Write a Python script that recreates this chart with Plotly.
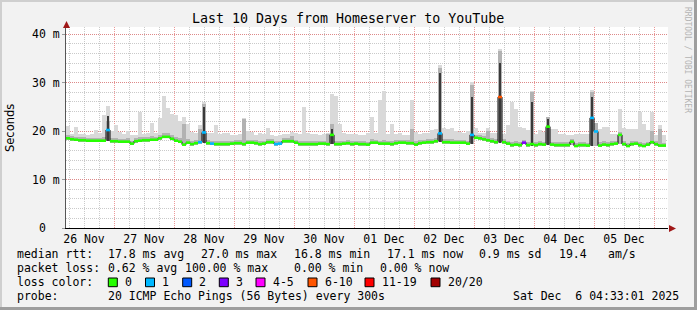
import plotly.graph_objects as go
import pandas as pd

W, H = 697, 310
MONO = "DejaVu Sans Mono"
SANS = "DejaVu Sans"

# ---------------- data ----------------
start = pd.Timestamp("2025-11-26 04:48")
step_min = 96          # one sample column every 96 minutes

median_ms = [
    18.5, 18.3, 18.2, 18.1, 18.1, 18.0, 18.0, 18.0, 18.0, 18.0,
    20.2, 17.9, 17.9, 17.8, 17.8, 17.8, 17.4, 17.9, 18.0, 18.1,
    18.1, 18.2, 18.2, 18.5, 18.8, 18.8, 18.4, 18.0, 17.8, 17.2,
    17.6, 17.3, 17.5, 17.7, 19.7, 17.5, 17.4, 17.3, 17.3, 17.3,
    17.3, 17.4, 17.5, 17.5, 17.3, 17.6, 17.6, 17.5, 17.3, 17.4,
    17.7, 17.7, 17.3, 17.4, 17.9, 17.9, 17.9, 17.6, 17.3, 17.3,
    17.3, 17.3, 17.3, 17.4, 17.4, 17.3, 19.2, 17.3, 17.3, 17.4,
    17.5, 17.3, 17.4, 17.3, 17.3, 17.2, 17.6, 17.6, 17.4, 17.4,
    17.4, 17.3, 17.5, 17.6, 17.6, 17.5, 17.5, 17.2, 17.5, 17.6,
    17.7, 17.7, 17.9, 19.5, 17.7, 17.7, 17.6, 17.6, 17.6, 17.6,
    17.4, 19.2, 18.6, 18.5, 18.3, 18.1, 17.9, 17.7, 27.0, 17.7,
    17.4, 17.1, 17.2, 17.1, 17.6, 17.1, 17.3, 17.1, 17.3, 17.2,
    20.9, 17.2, 17.1, 17.1, 17.1, 17.1, 17.8, 16.9, 17.1, 17.1,
    17.0, 22.7, 19.9, 17.0, 17.2, 17.1, 17.3, 17.4, 19.2, 17.3,
    16.9, 17.3, 17.4, 17.1, 16.9, 17.2, 17.7, 17.3, 17.0, 17.0,
]

smoke_min_ms = [
    18.2, 18.0, 17.9, 17.8, 17.8, 17.7, 17.7, 17.7, 17.7, 17.7,
    17.9, 17.6, 17.6, 17.5, 17.5, 17.5, 17.1, 17.6, 17.7, 17.8,
    17.8, 17.9, 17.9, 18.2, 18.5, 18.5, 18.1, 17.7, 17.5, 16.9,
    17.3, 17.0, 17.2, 17.4, 17.5, 17.2, 17.1, 17.0, 17.0, 17.0,
    17.0, 17.1, 17.2, 17.2, 17.0, 17.3, 17.3, 17.2, 17.0, 17.1,
    17.4, 17.4, 17.0, 17.1, 17.6, 17.6, 17.6, 17.3, 17.0, 17.0,
    17.0, 17.0, 17.0, 17.1, 17.1, 17.0, 17.3, 17.0, 17.0, 17.1,
    17.2, 17.0, 17.1, 17.0, 17.0, 16.9, 17.3, 17.3, 17.1, 17.1,
    17.1, 17.0, 17.2, 17.3, 17.3, 17.2, 17.2, 16.9, 17.2, 17.3,
    17.4, 17.4, 17.6, 17.7, 17.4, 17.4, 17.3, 17.3, 17.3, 17.3,
    17.1, 17.4, 18.3, 18.2, 18.0, 17.8, 17.6, 17.4, 17.5, 17.4,
    17.1, 16.8, 16.9, 16.8, 17.3, 16.8, 17.0, 16.8, 17.0, 16.9,
    17.2, 16.9, 16.8, 16.8, 16.8, 16.8, 17.2, 16.6, 16.8, 16.8,
    16.7, 17.0, 17.0, 16.7, 16.9, 16.8, 17.0, 17.1, 17.3, 17.0,
    16.6, 17.0, 17.1, 16.8, 16.6, 16.9, 17.3, 17.0, 16.7, 16.7,
]

smoke_max_ms = [
    21.0, 19.3, 20.8, 19.3, 19.3, 19.2, 19.4, 20.2, 19.6, 23.3,
    25.2, 20.0, 21.3, 19.8, 19.4, 20.0, 19.2, 19.2, 24.0, 19.4,
    19.6, 21.6, 19.6, 22.7, 27.2, 24.7, 23.6, 23.3, 22.0, 22.8,
    21.5, 19.8, 19.6, 21.2, 26.0, 19.6, 19.6, 21.2, 19.4, 19.6,
    19.6, 19.2, 19.2, 19.4, 22.7, 20.0, 19.8, 19.2, 19.6, 19.4,
    20.6, 19.2, 19.0, 19.2, 19.4, 19.4, 19.8, 19.6, 19.4, 25.0,
    19.6, 19.4, 19.4, 19.2, 19.4, 19.6, 27.6, 27.2, 21.4, 19.6,
    19.4, 19.4, 19.4, 19.2, 19.2, 19.6, 22.9, 19.6, 26.4, 28.3,
    19.4, 21.4, 19.4, 19.6, 19.2, 19.2, 26.4, 19.8, 19.4, 19.6,
    19.6, 20.2, 20.4, 33.6, 20.6, 20.4, 20.6, 20.0, 19.8, 19.6,
    20.0, 30.1, 20.6, 19.6, 19.6, 20.6, 19.6, 19.6, 37.0, 19.4,
    21.2, 26.0, 24.6, 20.8, 20.6, 20.2, 28.3, 19.4, 20.2, 19.8,
    22.9, 20.4, 20.4, 19.4, 19.4, 19.2, 19.2, 19.4, 19.4, 19.4,
    19.4, 28.5, 21.6, 20.4, 20.8, 20.8, 19.4, 19.4, 24.5, 20.6,
    20.4, 20.4, 20.4, 23.9, 21.4, 20.2, 23.9, 19.2, 21.2, 19.2,
]

smoke_p75_ms = [
    19.1, 18.9, 18.8, 18.7, 18.7, 18.6, 18.6, 18.6, 18.6, 18.7,
    22.0, 18.5, 18.6, 18.4, 18.4, 18.5, 18.0, 18.5, 18.7, 18.7,
    18.7, 18.9, 18.8, 19.1, 19.5, 19.5, 19.1, 18.7, 18.5, 21.5,
    18.3, 17.9, 18.1, 20.5, 25.5, 18.1, 18.0, 17.9, 17.9, 17.9,
    17.9, 18.0, 18.1, 18.1, 22.5, 18.2, 18.2, 18.1, 17.9, 18.0,
    18.3, 18.3, 17.9, 18.0, 18.5, 18.5, 19.0, 18.2, 17.9, 18.0,
    17.9, 17.9, 17.9, 18.0, 18.0, 19.4, 21.5, 17.9, 17.9, 18.0,
    18.1, 17.9, 18.0, 17.9, 17.9, 17.8, 18.3, 18.2, 18.0, 18.1,
    18.0, 17.9, 18.1, 18.2, 18.2, 18.1, 20.5, 18.0, 18.1, 18.2,
    18.3, 18.4, 18.6, 33.0, 18.4, 18.4, 18.3, 18.2, 18.2, 18.2,
    18.0, 29.5, 19.2, 19.1, 18.9, 20.0, 18.5, 18.3, 36.5, 18.3,
    18.0, 17.8, 17.9, 17.7, 18.2, 17.7, 28.0, 17.7, 17.9, 17.8,
    22.9, 17.8, 17.7, 17.7, 17.7, 17.7, 18.4, 17.5, 17.7, 17.7,
    17.6, 28.0, 21.6, 17.7, 17.9, 17.8, 17.9, 18.0, 19.8, 17.9,
    17.5, 17.9, 18.0, 17.8, 17.5, 17.8, 20.0, 17.9, 20.5, 17.6,
]

dark_idx = [10, 34, 66, 93, 101, 108, 116, 120, 131]
dark_top_ms = [23.0, 25.0, 20.5, 32.0, 27.0, 34.0, 26.0, 22.5, 27.0]

loss_idx = [10, 33, 34, 36, 52, 53, 93, 101, 108, 114, 131, 132]
loss_cnt = [1, 1, 1, 1, 1, 1, 1, 1, 7, 3, 1, 1]

loss_labels = ["0", "1", "2", "3", "4-5", "6-10", "11-19", "20/20"]
loss_colors = ["#26ff00", "#00b8ff", "#0059ff", "#7e00ff", "#ff00ff",
               "#ff5500", "#ff0000", "#a10000"]
loss_upper = [0, 1, 2, 3, 5, 10, 19, 20]

title = "Last 10 Days from Homeserver to YouTube"
rtt_chunks = ["median rtt:", "17.8 ms avg", "27.0 ms max", "16.8 ms min",
              "17.1 ms now", "0.9 ms sd", "19.4", "am/s"]
loss_chunks = ["packet loss:", "0.62 % avg", "100.00 % max", "0.00 % min",
               "0.00 % now"]
probe_text = "20 ICMP Echo Pings (56 Bytes) every 300s"
stamp_text = "Sat Dec  6 04:33:01 2025"
y_tickvals = [0, 10, 20, 30, 40]
y_ticktext = ["0  ", "10 m", "20 m", "30 m", "40 m"]

# ---------------- derived ----------------
n = len(median_ms)
step = pd.Timedelta(minutes=step_min)
starts = [start + step * i for i in range(n)]
centers = [s + step / 2 for s in starts]
width_ms = step_min * 60 * 1000

loss = [0] * n
for i, c in zip(loss_idx, loss_cnt):
    loss[i] = c


def loss_color(c):
    for up, col in zip(loss_upper, loss_colors):
        if c <= up:
            return col
    return loss_colors[-1]


fig = go.Figure()

fig.add_trace(go.Bar(x=centers, y=[hi - lo for lo, hi in zip(smoke_min_ms, smoke_max_ms)],
                     base=smoke_min_ms, width=width_ms,
                     marker=dict(color="#d9d9d9", line=dict(width=0)), hoverinfo="skip"))
fig.add_trace(go.Bar(x=centers, y=[p - lo for lo, p in zip(smoke_min_ms, smoke_p75_ms)],
                     base=smoke_min_ms, width=width_ms,
                     marker=dict(color="#b2b2b2", line=dict(width=0)), hoverinfo="skip"))
fig.add_trace(go.Bar(x=[centers[i] for i in dark_idx],
                     y=[t - smoke_min_ms[i] for i, t in zip(dark_idx, dark_top_ms)],
                     base=[smoke_min_ms[i] for i in dark_idx], width=width_ms * 0.55,
                     marker=dict(color="#3a3a3a", line=dict(width=0)), hoverinfo="skip"))
fig.add_trace(go.Scatter(x=starts + [starts[-1] + step], y=median_ms + [median_ms[-1]],
                         mode="lines", line=dict(color="#000000", width=1, shape="hv"),
                         hoverinfo="skip"))
for col in loss_colors:
    xs, ys = [], []
    for i in range(n):
        if loss_color(loss[i]) == col:
            xs += [starts[i], starts[i] + step, None]
            ys += [median_ms[i], median_ms[i], None]
    if xs:
        fig.add_trace(go.Scatter(x=xs, y=ys, mode="lines",
                                 line=dict(color=col, width=2.6),
                                 connectgaps=False, hoverinfo="skip"))

x0_px, x1_px = 66, 668
y_top_px, y_bot_px = 27, 228
px_per_ms = 4.85
x_min = start
x_max = start + pd.Timedelta(minutes=24 * (x1_px - x0_px))

grid_major = "rgba(230,110,110,0.7)"
grid_minor = "rgba(150,150,150,0.5)"

fig.update_layout(
    width=W, height=H, autosize=False,
    margin=dict(l=0, r=0, t=0, b=0, pad=0, autoexpand=False),
    paper_bgcolor="#f2f2f2", plot_bgcolor="#ffffff",
    showlegend=False, barmode="overlay", bargap=0,
    font=dict(family=MONO, size=11.5, color="#000000"),
    xaxis=dict(
        type="date", domain=[x0_px / W, x1_px / W], range=[x_min, x_max],
        tick0="2025-11-27", dtick=86400000, tickformat="%d %b",
        ticklabelmode="period", ticks="", showgrid=True, automargin=False,
        gridcolor=grid_major, griddash="1px,1px", gridwidth=1,
        minor=dict(tick0="2025-11-27", dtick=6 * 3600000, showgrid=True,
                   gridcolor=grid_minor, griddash="1px,1px", gridwidth=1),
        showline=True, linecolor="#000000", linewidth=1, zeroline=False,
        tickfont=dict(family=MONO, size=11.5, color="#000"), fixedrange=True,
    ),
    yaxis=dict(
        domain=[1 - y_bot_px / H, 1 - y_top_px / H],
        range=[0, (y_bot_px - y_top_px) / px_per_ms], automargin=False,
        tickmode="array", tickvals=y_tickvals,
        ticktext=[t.replace(" ", "\u00a0") for t in y_ticktext],
        ticks="outside", ticklen=3, tickcolor="#999999",
        showgrid=True, gridcolor=grid_major, griddash="1px,1px", gridwidth=1,
        minor=dict(dtick=2, showgrid=True, gridcolor=grid_minor,
                   griddash="1px,1px", gridwidth=1),
        showline=True, linecolor="#555555", linewidth=1, zeroline=False,
        tickfont=dict(family=MONO, size=11.5, color="#000"), fixedrange=True,
    ),
)


def px(x):
    return x / W


def py(y):
    return 1 - y / H


def txt(x, y, s, size=11.5, anchor="left", family=MONO, color="#000000", angle=0):
    fig.add_annotation(x=px(x), y=py(y), xref="paper", yref="paper",
                       text=s.replace(" ", "\u00a0"), showarrow=False,
                       xanchor=anchor, yanchor="middle", textangle=angle,
                       borderpad=0,
                       font=dict(family=family, size=size, color=color))


txt(348, 19, title, size=13.3, anchor="center")
txt(10, 128, "Seconds", size=11.5, anchor="center", family=SANS, angle=-90)
txt(688, 60, "RRDTOOL / TOBI OETIKER", size=8, anchor="center",
    color="#b4b4b4", angle=90)

rtt_x = [16, 107.3, 200, 293.3, 386, 478.3, 558.3, 607.3]
for xx, s in zip(rtt_x, rtt_chunks):
    txt(xx, 254.3, s)
loss_x = [16, 107.3, 184, 293.3, 379.3]
for xx, s in zip(loss_x, loss_chunks):
    txt(xx, 268.3, s)
txt(16, 282.3, "loss color:")
box_x = [108.3, 145.5, 182.7, 219.3, 256, 308, 365, 431]
for bx, lab, col in zip(box_x, loss_labels, loss_colors):
    fig.add_shape(type="rect", xref="paper", yref="paper",
                  x0=px(bx), x1=px(bx + 9), y0=py(286.7), y1=py(278),
                  fillcolor=col, line=dict(color="#000000", width=1))
    txt(bx + 15.5, 282.3, lab)
txt(16, 295.7, "probe:")
txt(107.3, 295.7, probe_text)
txt(680, 295.7, stamp_text, anchor="right")

arrow_col = "#a01818"
fig.add_shape(type="path", xref="paper", yref="paper",
              path=f"M {px(66.5)} {py(21)} L {px(63)} {py(28)} L {px(70)} {py(28)} Z",
              fillcolor=arrow_col, line=dict(width=0))
fig.add_shape(type="path", xref="paper", yref="paper",
              path=f"M {px(676)} {py(228.5)} L {px(669)} {py(225)} L {px(669)} {py(232)} Z",
              fillcolor=arrow_col, line=dict(width=0))

fig.add_shape(type="rect", xref="paper", yref="paper", x0=0, x1=1, y0=py(2), y1=1,
              fillcolor="#cfcfcf", line=dict(width=0), layer="below")
fig.add_shape(type="rect", xref="paper", yref="paper", x0=0, x1=px(2), y0=0, y1=1,
              fillcolor="#cfcfcf", line=dict(width=0), layer="below")
fig.add_shape(type="rect", xref="paper", yref="paper", x0=0, x1=1, y0=0, y1=py(307),
              fillcolor="#9e9e9e", line=dict(width=0), layer="below")
fig.add_shape(type="rect", xref="paper", yref="paper", x0=px(694), x1=1, y0=0, y1=1,
              fillcolor="#9e9e9e", line=dict(width=0), layer="below")

fig.write_html(
    "out.html",
    config={"responsive": False, "displayModeBar": False},
    post_script=("document.documentElement.style.margin='0';"
                 "document.body.style.margin='0';"
                 "document.body.style.background='#f2f2f2';"),
)
